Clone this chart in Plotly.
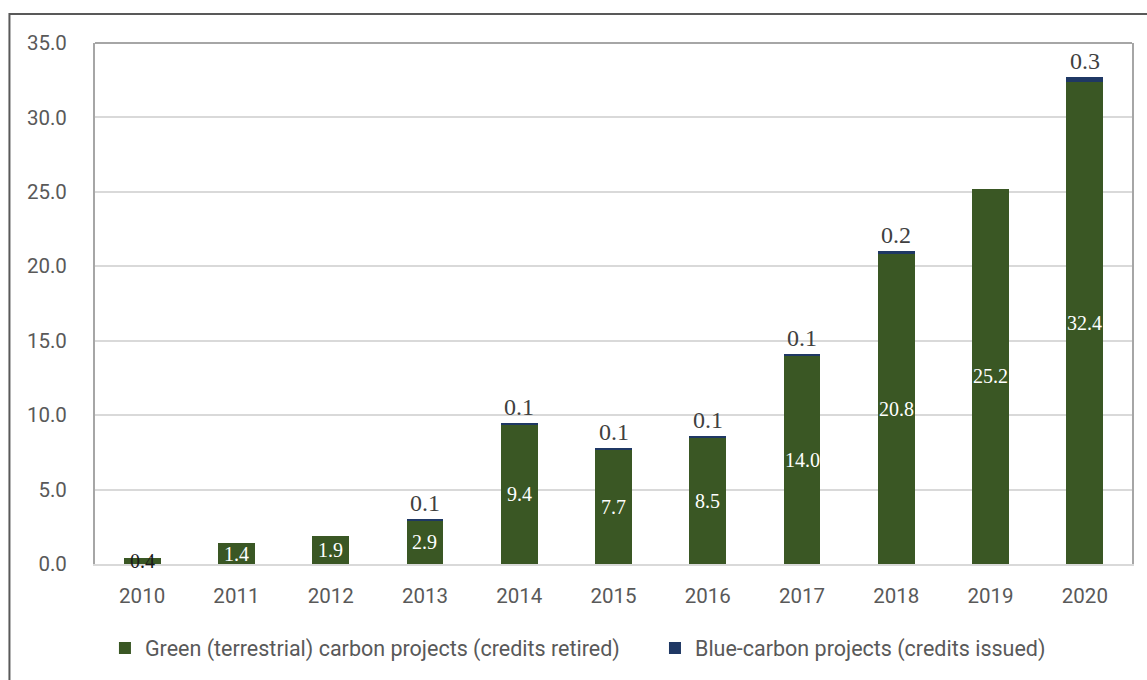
import plotly.graph_objects as go

years = ["2010", "2011", "2012", "2013", "2014", "2015", "2016", "2017", "2018", "2019", "2020"]
green_retired = [0.4, 1.4, 1.9, 2.9, 9.4, 7.7, 8.5, 14.0, 20.8, 25.2, 32.4]
blue_issued = [0.0, 0.0, 0.0, 0.1, 0.1, 0.1, 0.1, 0.1, 0.2, 0.0, 0.3]
y_ticks = [0, 5, 10, 15, 20, 25, 30, 35]

GREEN = "#3A5724"
BLUE = "#1F3864"
TICK_FONT = dict(family="Roboto", size=20.5, color="#595959")
LEGEND_FONT = dict(family="Roboto", size=21.5, color="#595959")
SERIF = "Liberation Serif"

fig = go.Figure()
fig.add_trace(go.Bar(
    x=years, y=green_retired, name="Green (terrestrial) carbon projects (credits retired)",
    marker=dict(color=GREEN, line=dict(width=0)), width=0.39, legend="legend",
))
fig.add_trace(go.Bar(
    x=years, y=blue_issued, name="Blue-carbon projects (credits issued)",
    marker=dict(color=BLUE, line=dict(width=0)), width=0.39, legend="legend2",
))

# value labels: green totals centred in the bar, blue amounts above the stack
annotations = []
for i, (g, b) in enumerate(zip(green_retired, blue_issued)):
    annotations.append(dict(
        x=i, y=g / 2, text=f"{g:.1f}", showarrow=False, yanchor="middle",
        font=dict(family=SERIF, size=20, color="#FFFFFF" if g >= 1 else "#1A1A1A"),
    ))
    if b > 0:
        annotations.append(dict(
            x=i, y=g + b, text=f"{b:.1f}", showarrow=False, yanchor="bottom", yshift=1,
            font=dict(family=SERIF, size=24, color="#404040"),
        ))

fig.update_layout(
    width=1147, height=680,
    barmode="stack",
    plot_bgcolor="white", paper_bgcolor="white",
    margin=dict(l=95, r=15, t=43, b=116, autoexpand=False),
    showlegend=True,
    legend=dict(orientation="h", x=0.0096, xanchor="left", y=-0.122, yanchor="top",
                font=LEGEND_FONT),
    legend2=dict(orientation="h", x=0.54, xanchor="left", y=-0.122, yanchor="top",
                 font=LEGEND_FONT),
    annotations=annotations,
    shapes=[
        # chart outline
        dict(type="rect", xref="paper", yref="paper", x0=-0.0825, x1=1.02, y0=-0.3, y1=1.0557,
             line=dict(color="#595959", width=2), layer="below"),
        # plot area top edge
        dict(type="line", xref="paper", yref="paper", x0=0, x1=1, y0=1, y1=1,
             line=dict(color="#A6A6A6", width=2)),
    ],
)
fig.update_xaxes(
    type="category", range=[-0.5, len(years) - 0.5], tickfont=TICK_FONT,
    showline=True, linecolor="#D9D9D9", linewidth=2,
    ticks="outside", ticklen=12, tickcolor="rgba(0,0,0,0)",
    showgrid=False,
)
fig.update_yaxes(
    range=[0, 35], tickvals=y_ticks, ticktext=[f"{v:.1f}" for v in y_ticks],
    tickfont=TICK_FONT,
    showgrid=True, gridcolor="#D9D9D9", gridwidth=1.5,
    showline=True, mirror=True, linecolor="#A6A6A6", linewidth=2,
    ticks="outside", ticklen=22, tickcolor="rgba(0,0,0,0)",
    zeroline=False,
)

fig.write_html("out.html")
